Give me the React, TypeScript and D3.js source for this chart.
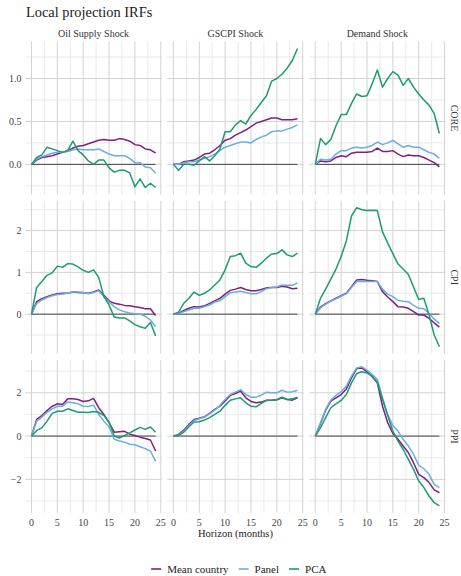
import React, { useEffect, useRef } from "react";
import * as d3 from "d3";

// horizons (months) and facet labels
const horizons = [0, 1, 2, 3, 4, 5, 6, 7, 8, 9, 10, 11, 12, 13, 14, 15, 16, 17, 18, 19, 20, 21, 22, 23, 24];
const shocks = ["Oil Supply Shock", "GSCPI Shock", "Demand Shock"];
const variables = ["CORE", "CPI", "PPI"];
const seriesNames = ["Mean country", "Panel", "PCA"];
const seriesColors = ["#7d2181", "#6aaee0", "#1f9a72"];
const xTicks = [0, 5, 10, 15, 20, 25];
const yTicks = [[0, 0.5, 1], [0, 1, 2], [-2, 0, 2]];
const yFormats = [".1f", "d", "d"];

// CORE
const oilCoreMean = [0, 0.05, 0.08, 0.09, 0.1, 0.12, 0.14, 0.16, 0.19, 0.21, 0.22, 0.24, 0.26, 0.28, 0.29, 0.28, 0.28, 0.3, 0.29, 0.27, 0.23, 0.22, 0.18, 0.17, 0.13];
const oilCorePanel = [0, 0.06, 0.09, 0.11, 0.13, 0.14, 0.14, 0.15, 0.17, 0.18, 0.17, 0.17, 0.17, 0.18, 0.15, 0.12, 0.1, 0.1, 0.1, 0.07, 0.02, 0.02, -0.03, -0.04, -0.1];
const oilCorePca = [0, 0.08, 0.11, 0.2, 0.18, 0.16, 0.14, 0.16, 0.27, 0.16, 0.11, 0.04, 0.0, 0.05, 0.05, -0.04, -0.09, -0.07, -0.07, -0.1, -0.26, -0.17, -0.27, -0.22, -0.27];
const gscpiCoreMean = [0, 0.0, 0.03, 0.04, 0.05, 0.08, 0.12, 0.13, 0.17, 0.22, 0.28, 0.3, 0.34, 0.37, 0.4, 0.44, 0.48, 0.5, 0.52, 0.54, 0.54, 0.52, 0.52, 0.52, 0.53];
const gscpiCorePanel = [0, 0.0, 0.02, 0.03, 0.03, 0.05, 0.07, 0.09, 0.12, 0.16, 0.2, 0.22, 0.24, 0.26, 0.26, 0.25, 0.29, 0.32, 0.34, 0.38, 0.39, 0.39, 0.41, 0.43, 0.46];
const gscpiCorePca = [0, -0.07, 0.0, 0.0, -0.01, 0.04, 0.09, 0.04, 0.1, 0.18, 0.38, 0.38, 0.46, 0.51, 0.47, 0.57, 0.64, 0.72, 0.8, 0.97, 1.0, 1.05, 1.12, 1.21, 1.35];
const demandCoreMean = [0, 0.04, 0.03, 0.04, 0.08, 0.1, 0.09, 0.13, 0.14, 0.14, 0.14, 0.15, 0.19, 0.15, 0.15, 0.16, 0.12, 0.09, 0.11, 0.1, 0.1, 0.08, 0.05, 0.02, -0.03];
const demandCorePanel = [0, 0.06, 0.05, 0.06, 0.12, 0.16, 0.16, 0.19, 0.2, 0.19, 0.2, 0.22, 0.26, 0.23, 0.25, 0.28, 0.24, 0.2, 0.22, 0.2, 0.2, 0.17, 0.14, 0.12, 0.07];
const demandCorePca = [0, 0.3, 0.23, 0.29, 0.45, 0.58, 0.58, 0.71, 0.82, 0.79, 0.8, 0.94, 1.1, 0.9, 1.0, 1.08, 1.04, 0.92, 1.0, 0.9, 0.82, 0.75, 0.69, 0.59, 0.36];

// CPI
const oilCpiMean = [0, 0.3, 0.37, 0.42, 0.46, 0.49, 0.5, 0.5, 0.53, 0.52, 0.51, 0.5, 0.53, 0.58, 0.45, 0.32, 0.26, 0.24, 0.21, 0.2, 0.18, 0.16, 0.13, 0.13, -0.03];
const oilCpiPanel = [0, 0.26, 0.34, 0.4, 0.44, 0.47, 0.48, 0.5, 0.53, 0.53, 0.52, 0.49, 0.52, 0.56, 0.42, 0.29, 0.18, 0.1, 0.06, 0.03, 0.01, 0.0, -0.05, -0.14, -0.3];
const oilCpiPca = [0, 0.64, 0.78, 0.93, 0.99, 1.15, 1.12, 1.21, 1.2, 1.13, 1.05, 1.0, 1.06, 0.88, 0.42, 0.22, -0.07, -0.09, -0.09, -0.16, -0.25, -0.3, -0.34, -0.2, -0.52];
const gscpiCpiMean = [0, 0.02, 0.09, 0.14, 0.18, 0.17, 0.2, 0.26, 0.32, 0.38, 0.48, 0.57, 0.6, 0.64, 0.59, 0.56, 0.56, 0.59, 0.63, 0.64, 0.64, 0.67, 0.65, 0.61, 0.62];
const gscpiCpiPanel = [0, 0.01, 0.06, 0.1, 0.14, 0.14, 0.18, 0.22, 0.29, 0.32, 0.42, 0.51, 0.53, 0.55, 0.52, 0.49, 0.49, 0.54, 0.61, 0.64, 0.65, 0.7, 0.69, 0.69, 0.75];
const gscpiCpiPca = [0, 0.05, 0.26, 0.38, 0.53, 0.45, 0.5, 0.58, 0.7, 0.82, 1.06, 1.38, 1.4, 1.46, 1.22, 1.14, 1.12, 1.22, 1.34, 1.44, 1.45, 1.54, 1.42, 1.38, 1.46];
const demandCpiMean = [0, 0.17, 0.25, 0.32, 0.38, 0.44, 0.5, 0.66, 0.82, 0.83, 0.81, 0.8, 0.78, 0.54, 0.41, 0.3, 0.18, 0.17, 0.14, 0.06, -0.02, -0.02, -0.1, -0.21, -0.31];
const demandCpiPanel = [0, 0.15, 0.24, 0.31, 0.37, 0.43, 0.49, 0.64, 0.78, 0.79, 0.78, 0.78, 0.78, 0.6, 0.48, 0.42, 0.33, 0.31, 0.3, 0.21, 0.14, 0.13, 0.02, -0.12, -0.22];
const demandCpiPca = [0, 0.38, 0.6, 0.84, 1.08, 1.38, 1.75, 2.35, 2.55, 2.5, 2.48, 2.49, 2.48, 1.97, 1.7, 1.45, 1.2, 1.08, 0.95, 0.65, 0.35, 0.38, -0.02, -0.5, -0.78];

// PPI
const oilPpiMean = [0, 0.77, 0.95, 1.18, 1.38, 1.49, 1.46, 1.72, 1.72, 1.69, 1.6, 1.63, 1.74, 1.31, 1.0, 0.62, 0.18, 0.2, 0.22, 0.09, 0.03, -0.05, -0.11, -0.18, -0.69];
const oilPpiPanel = [0, 0.69, 0.88, 1.1, 1.26, 1.38, 1.38, 1.57, 1.54, 1.49, 1.38, 1.37, 1.43, 1.0, 0.69, 0.43, -0.15, -0.23, -0.28, -0.38, -0.4, -0.49, -0.58, -0.69, -1.17];
const oilPpiPca = [0, 0.26, 0.38, 0.69, 1.05, 1.15, 1.15, 1.26, 1.18, 1.1, 1.1, 1.09, 1.14, 1.1, 0.95, 0.65, 0.0, -0.09, 0.03, 0.15, 0.28, 0.4, 0.31, 0.42, 0.18];
const gscpiPpiMean = [0, 0.08, 0.28, 0.54, 0.77, 0.82, 0.89, 1.05, 1.23, 1.38, 1.62, 1.88, 1.97, 2.08, 1.77, 1.6, 1.54, 1.57, 1.66, 1.66, 1.68, 1.77, 1.69, 1.66, 1.77];
const gscpiPpiPanel = [0, 0.05, 0.23, 0.49, 0.72, 0.8, 0.88, 1.03, 1.2, 1.42, 1.69, 1.92, 2.03, 2.15, 1.92, 1.8, 1.8, 1.89, 2.03, 2.0, 2.0, 2.12, 2.03, 2.05, 2.12];
const gscpiPpiPca = [0, 0.03, 0.18, 0.43, 0.65, 0.66, 0.74, 0.85, 1.0, 1.15, 1.42, 1.66, 1.72, 1.77, 1.54, 1.38, 1.35, 1.51, 1.65, 1.66, 1.68, 1.8, 1.69, 1.72, 1.8];
const demandPpiMean = [0, 0.58, 1.2, 1.62, 1.77, 1.92, 2.18, 2.69, 3.12, 3.15, 2.97, 2.74, 2.46, 1.38, 0.62, 0.12, -0.15, -0.46, -0.77, -1.23, -1.77, -1.92, -2.15, -2.49, -2.62];
const demandPpiPanel = [0, 0.62, 1.23, 1.66, 1.88, 2.05, 2.31, 2.77, 3.15, 3.2, 3.05, 2.85, 2.62, 1.77, 1.0, 0.49, 0.23, -0.15, -0.46, -0.85, -1.34, -1.51, -1.77, -2.23, -2.38];
const demandPpiPca = [0, 0.38, 0.85, 1.31, 1.49, 1.65, 1.92, 2.46, 2.89, 2.97, 2.92, 2.77, 2.49, 1.69, 0.95, 0.23, -0.23, -0.62, -1.08, -1.54, -2.08, -2.38, -2.77, -3.08, -3.23];

// rows = variables, columns = shocks, inner = series
const irfs = [
  [[oilCoreMean, oilCorePanel, oilCorePca], [gscpiCoreMean, gscpiCorePanel, gscpiCorePca], [demandCoreMean, demandCorePanel, demandCorePca]],
  [[oilCpiMean, oilCpiPanel, oilCpiPca], [gscpiCpiMean, gscpiCpiPanel, gscpiCpiPca], [demandCpiMean, demandCpiPanel, demandCpiPca]],
  [[oilPpiMean, oilPpiPanel, oilPpiPca], [gscpiPpiMean, gscpiPpiPanel, gscpiPpiPca], [demandPpiMean, demandPpiPanel, demandPpiPca]],
];

const FONT = "'Liberation Serif', 'Times New Roman', serif";

function App() {
  const ref = useRef<HTMLDivElement>(null);

  useEffect(() => {
    const width = 461, height = 576;
    const left = 25.3, panelW = 136.5, colStep = 141.9;
    const top = 41.5, panelH = 153, rowStep = 159.2;

    d3.select(ref.current).selectAll("*").remove();
    // pinned to the page corner so the body margin doesn't shift it
    const svg = d3.select(ref.current)
      .append("svg")
      .attr("width", width)
      .attr("height", height)
      .style("position", "absolute")
      .style("left", "0px")
      .style("top", "0px")
      .style("background", "#fff")
      .style("font-family", FONT);

    // title
    svg.append("text")
      .attr("x", 26)
      .attr("y", 16.5)
      .attr("font-size", 14.4)
      .attr("fill", "#222")
      .text("Local projection IRFs");

    const line = d3.line<number>();

    irfs.forEach((row, r) => {
      // shared y scale per row, 5% padding like ggplot
      const all = row.flat(2);
      const [lo, hi] = d3.extent(all) as [number, number];
      const pad = (hi - lo) * 0.05;
      const y0 = top + r * rowStep;
      const y = d3.scaleLinear().domain([lo - pad, hi + pad]).range([y0 + panelH, y0]);
      const major = yTicks[r];
      const step = major[1] - major[0];
      const minor = d3.range(major[0] - step / 2, major[major.length - 1] + step, step)
        .filter(v => v >= lo - pad && v <= hi + pad);

      // y tick labels
      svg.append("g")
        .selectAll("text")
        .data(major)
        .enter()
        .append("text")
        .attr("x", 21.5)
        .attr("y", d => y(d))
        .attr("dy", "0.35em")
        .attr("text-anchor", "end")
        .attr("font-size", 10)
        .attr("fill", "#444")
        .text(d => d3.format(yFormats[r])(d));

      // right strip label
      svg.append("text")
        .attr("transform", `translate(${454},${y0 + panelH / 2}) rotate(90)`)
        .attr("text-anchor", "middle")
        .attr("dy", "0.35em")
        .attr("font-size", 10)
        .attr("fill", "#333")
        .text(variables[r]);

      row.forEach((series, c) => {
        const x0 = left + c * colStep;
        const x = d3.scaleLinear().domain([-1.2, 25.2]).range([x0, x0 + panelW]);
        const g = svg.append("g");
        const xMinor = d3.range(2.5, 25, 5);

        // grid
        g.selectAll(".hmin").data(minor).enter().append("line")
          .attr("x1", x0).attr("x2", x0 + panelW)
          .attr("y1", d => y(d)).attr("y2", d => y(d))
          .attr("stroke", "#e3e3e3").attr("stroke-width", 0.8);
        g.selectAll(".vmin").data(xMinor).enter().append("line")
          .attr("x1", d => x(d)).attr("x2", d => x(d))
          .attr("y1", y0).attr("y2", y0 + panelH)
          .attr("stroke", "#e3e3e3").attr("stroke-width", 0.8);
        g.selectAll(".hmaj").data(major).enter().append("line")
          .attr("x1", x0).attr("x2", x0 + panelW)
          .attr("y1", d => y(d)).attr("y2", d => y(d))
          .attr("stroke", "#d2d2d2").attr("stroke-width", 1);
        g.selectAll(".vmaj").data(xTicks).enter().append("line")
          .attr("x1", d => x(d)).attr("x2", d => x(d))
          .attr("y1", y0).attr("y2", y0 + panelH)
          .attr("stroke", "#d2d2d2").attr("stroke-width", 1);

        // zero line
        g.append("line")
          .attr("x1", x(horizons[0])).attr("x2", x(horizons[horizons.length - 1]))
          .attr("y1", y(0)).attr("y2", y(0))
          .attr("stroke", "#333").attr("stroke-width", 0.9);

        // IRF lines
        series.forEach((vals, s) => {
          g.append("path")
            .attr("d", line.x((_, i) => x(horizons[i])).y(v => y(v))(vals))
            .attr("fill", "none")
            .attr("stroke", seriesColors[s])
            .attr("stroke-width", 1.5)
            .attr("stroke-linejoin", "round");
        });

        // strip title
        if (r === 0) {
          svg.append("text")
            .attr("x", x0 + panelW / 2)
            .attr("y", 33.5)
            .attr("dy", "0.35em")
            .attr("text-anchor", "middle")
            .attr("font-size", 10)
            .attr("fill", "#333")
            .text(shocks[c]);
        }

        // x tick labels on bottom row
        if (r === irfs.length - 1) {
          g.selectAll(".xt").data(xTicks).enter().append("text")
            .attr("x", d => x(d))
            .attr("y", y0 + panelH + 9.5)
            .attr("dy", "0.35em")
            .attr("text-anchor", "middle")
            .attr("font-size", 10)
            .attr("fill", "#444")
            .text(d => d);
        }
      });
    });

    // x axis title
    svg.append("text")
      .attr("x", left + (2 * colStep + panelW) / 2)
      .attr("y", 533.5)
      .attr("dy", "0.35em")
      .attr("text-anchor", "middle")
      .attr("font-size", 10.5)
      .attr("fill", "#222")
      .text("Horizon (months)");

    // legend, centred under the panels
    const legend = svg.append("g");
    let cursor = 0;
    seriesNames.forEach((name, i) => {
      const item = legend.append("g").attr("transform", `translate(${cursor},0)`);
      item.append("line")
        .attr("x1", 0).attr("x2", 10)
        .attr("y1", 0).attr("y2", 0)
        .attr("stroke", seriesColors[i])
        .attr("stroke-width", 1.6);
      const t = item.append("text")
        .attr("x", 16)
        .attr("dy", "0.35em")
        .attr("font-size", 11)
        .attr("fill", "#222")
        .text(name);
      const w = (t.node() as SVGTextElement).getComputedTextLength();
      cursor += 16 + w + 10;
    });
    const total = cursor - 10;
    legend.attr("transform", `translate(${238.8 - total / 2},569)`);
  }, []);

  return <div ref={ref}></div>;
}

export default App;
